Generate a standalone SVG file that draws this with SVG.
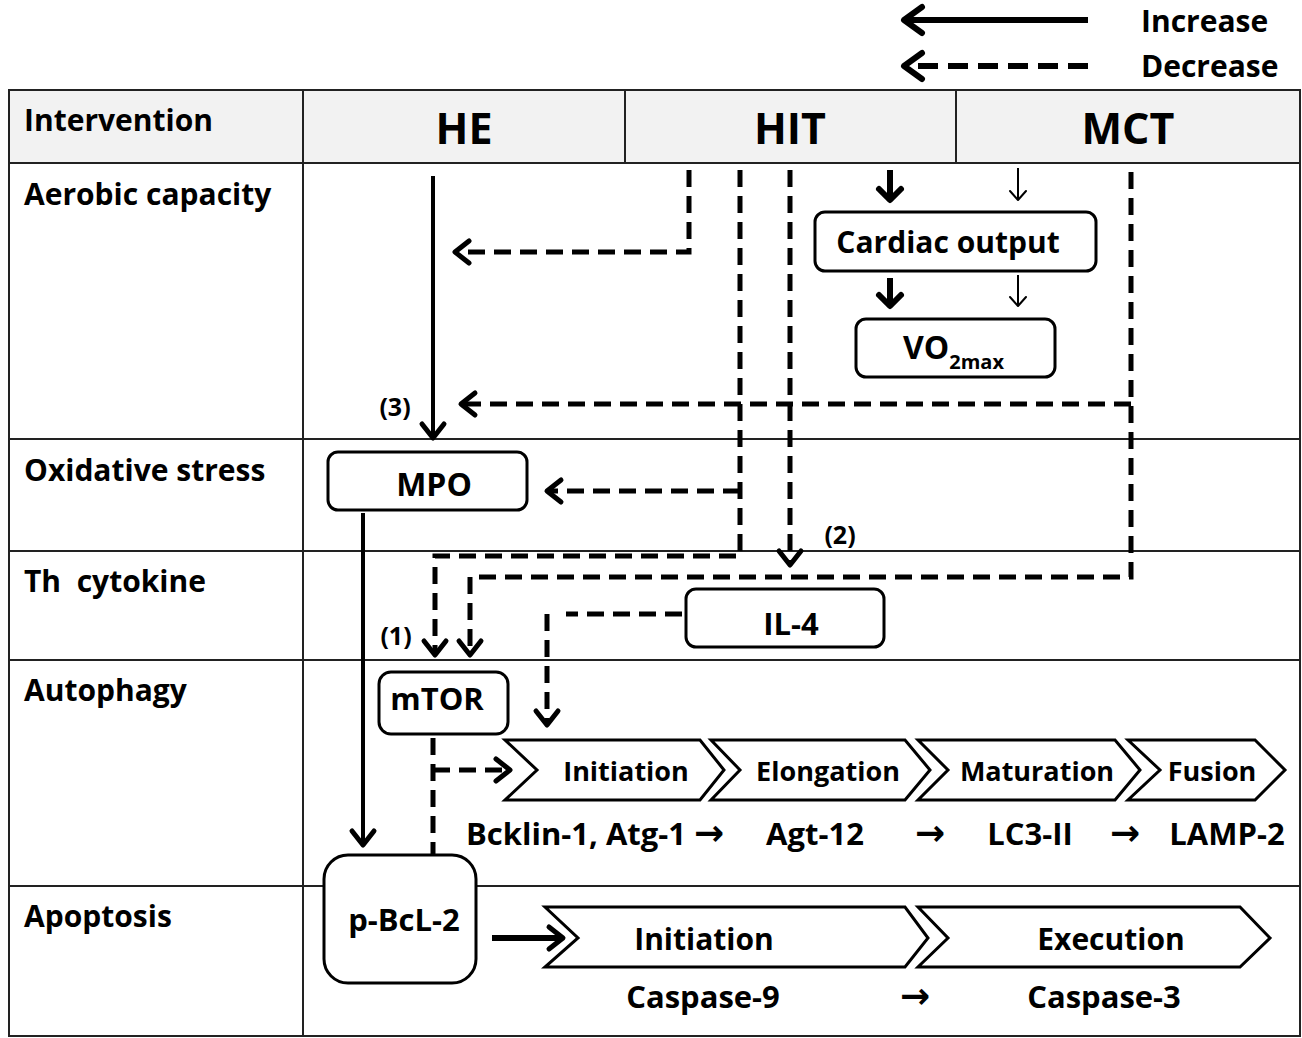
<svg xmlns="http://www.w3.org/2000/svg" width="1302" height="1038" viewBox="0 0 1302 1038">
<style>
text{font-family:"Open Sans","Liberation Sans",sans-serif;font-weight:bold;fill:#000}
.lbl{font-size:30px}
.hd{font-size:43px;text-anchor:middle}
.nd{font-size:31px;text-anchor:middle}
.st{font-size:27px;text-anchor:middle}
.sb{font-size:31px;text-anchor:middle}
.ar{font-family:"DejaVu Sans",sans-serif;font-weight:bold;font-size:36px}
.box{fill:#fff;stroke:#000;stroke-width:3}
.chev{fill:#fff;stroke:#000;stroke-width:3;stroke-linejoin:miter}
.grid{stroke:#222;stroke-width:2;fill:none}
.sol{stroke:#000;stroke-width:4;fill:none}
.dash{stroke:#000;stroke-width:5;fill:none;stroke-dasharray:17 9}
</style>
<defs>
<marker id="ah" markerUnits="userSpaceOnUse" orient="auto" refX="0" refY="0" markerWidth="40" markerHeight="40" viewBox="-30 -20 40 40" overflow="visible">
<path d="M-14,-11 L0,0 L-14,11" fill="none" stroke="#000" stroke-width="5" stroke-linecap="round" stroke-linejoin="round"/>
</marker>
<marker id="ahL" markerUnits="userSpaceOnUse" orient="auto" refX="0" refY="0" markerWidth="40" markerHeight="40" viewBox="-30 -20 40 40" overflow="visible">
<path d="M-18,-13 L0,0 L-18,13" fill="none" stroke="#000" stroke-width="6" stroke-linecap="round" stroke-linejoin="round"/>
</marker>
<marker id="ahB" markerUnits="userSpaceOnUse" orient="auto" refX="0" refY="0" markerWidth="40" markerHeight="40" viewBox="-30 -20 40 40" overflow="visible">
<path d="M-11,-11 L0,0 L-11,11" fill="none" stroke="#000" stroke-width="6" stroke-linecap="round" stroke-linejoin="round"/>
</marker>
<marker id="ahT" markerUnits="userSpaceOnUse" orient="auto" refX="0" refY="0" markerWidth="40" markerHeight="40" viewBox="-30 -20 40 40" overflow="visible">
<path d="M-9,-8 L0,0 L-9,8" fill="none" stroke="#000" stroke-width="2" stroke-linecap="round" stroke-linejoin="round"/>
</marker>
</defs>
<rect width="1302" height="1038" fill="#fff"/>

<g id="legend">
<line x1="1088" y1="20" x2="904" y2="20" stroke="#000" stroke-width="6" marker-end="url(#ahL)"/>
<line x1="1088" y1="66" x2="904" y2="66" stroke="#000" stroke-width="6" stroke-dasharray="20 10" marker-end="url(#ahL)"/>
<text x="1141" y="32" style="font-size:30px">Increase</text>
<text x="1141" y="77" style="font-size:30px">Decrease</text>
</g>

<g id="table">
<rect x="9" y="90" width="1291" height="73" fill="#f2f2f2"/>
<rect x="9" y="90" width="1291" height="946" class="grid"/>
<line x1="303" y1="90" x2="303" y2="1036" class="grid"/>
<line x1="625" y1="90" x2="625" y2="163" class="grid"/>
<line x1="956" y1="90" x2="956" y2="163" class="grid"/>
<line x1="9" y1="163" x2="1300" y2="163" class="grid"/>
<line x1="9" y1="439" x2="1300" y2="439" class="grid"/>
<line x1="9" y1="551" x2="1300" y2="551" class="grid"/>
<line x1="9" y1="660" x2="1300" y2="660" class="grid"/>
<line x1="9" y1="886" x2="1300" y2="886" class="grid"/>
<text x="24" y="131" class="lbl">Intervention</text>
<text x="464" y="144" class="hd">HE</text>
<text x="790" y="144" class="hd">HIT</text>
<text x="1128" y="144" class="hd">MCT</text>
<text x="24" y="205" class="lbl">Aerobic capacity</text>
<text x="24" y="481" class="lbl">Oxidative stress</text>
<text x="24" y="592" class="lbl" xml:space="preserve">Th  cytokine</text>
<text x="24" y="701" class="lbl">Autophagy</text>
<text x="24" y="927" class="lbl">Apoptosis</text>
</g>

<g id="connectors">
<path d="M433,176 V438" class="sol" marker-end="url(#ah)"/>
<path d="M689,170 V252 H455" class="dash" marker-end="url(#ah)"/>
<path d="M740,170 V556 H435 V655" class="dash" marker-end="url(#ah)"/>
<path d="M740,491 H547" class="dash" marker-end="url(#ah)"/>
<path d="M790,170 V565" class="dash" marker-end="url(#ah)"/>
<path d="M1131,172 V577 H470 V655" class="dash" marker-end="url(#ah)"/>
<path d="M1131,404 H461" class="dash" marker-end="url(#ah)"/>
<path d="M682,614 H566 M547,614 V725" class="dash" marker-end="url(#ah)"/>
<path d="M363,513 V845" class="sol" marker-end="url(#ah)"/>
<path d="M433,738 V855" class="dash"/>
<path d="M433,770 H510" class="dash" marker-end="url(#ah)"/>
<path d="M492,938 H563" stroke="#000" stroke-width="6" fill="none" marker-end="url(#ah)"/>
<path d="M890,170 V200" stroke="#000" stroke-width="6" fill="none" marker-end="url(#ahB)"/>
<path d="M890,278 V306" stroke="#000" stroke-width="6" fill="none" marker-end="url(#ahB)"/>
<path d="M1018,168 V200" stroke="#000" stroke-width="2" fill="none" marker-end="url(#ahT)"/>
<path d="M1018,275 V306" stroke="#000" stroke-width="2" fill="none" marker-end="url(#ahT)"/>
<text x="395" y="416" style="font-size:25px" text-anchor="middle">(3)</text>
<text x="840" y="544" style="font-size:25px" text-anchor="middle">(2)</text>
<text x="396" y="645" style="font-size:25px" text-anchor="middle">(1)</text>
</g>

<g id="cardiac">
<rect x="815" y="212" width="281" height="59" rx="10" class="box"/>
<text x="948" y="253" style="font-size:30px;text-anchor:middle">Cardiac output</text>
</g>
<g id="vo2max">
<rect x="856" y="319" width="199" height="58" rx="10" class="box"/>
<text x="903" y="359" style="font-size:32px">VO<tspan style="font-size:20px" dy="10">2max</tspan></text>
</g>
<g id="mpo">
<rect x="328" y="452" width="199" height="58" rx="10" class="box"/>
<text x="434" y="496" style="font-size:32px;text-anchor:middle">MPO</text>
</g>
<g id="il4">
<rect x="686" y="589" width="198" height="58" rx="10" class="box"/>
<text x="791" y="635" class="nd">IL-4</text>
</g>
<g id="mtor">
<rect x="379" y="672" width="129" height="62" rx="12" class="box"/>
<text x="437" y="710" class="nd">mTOR</text>
</g>
<g id="pbcl2">
<rect x="324" y="855" width="152" height="128" rx="24" class="box"/>
<text x="404" y="931" class="nd">p-BcL-2</text>
</g>

<g id="autophagy">
<polygon points="505,740 700,740 724,770 700,800 505,800 537,770" class="chev"/>
<polygon points="711,740 905,740 930,770 905,800 711,800 740,770" class="chev"/>
<polygon points="918,740 1115,740 1140,770 1115,800 918,800 948,770" class="chev"/>
<polygon points="1128,740 1255,740 1285,770 1255,800 1128,800 1160,770" class="chev"/>
<text x="626" y="781" class="st">Initiation</text>
<text x="828" y="781" class="st">Elongation</text>
<text x="1037" y="781" class="st">Maturation</text>
<text x="1212" y="781" class="st">Fusion</text>
<text x="466" y="845" style="font-size:31px">Bcklin-1, Atg-1 <tspan class="ar">→</tspan></text>
<text x="815" y="845" class="sb">Agt-12</text>
<text x="930" y="845" class="sb ar">→</text>
<text x="1030" y="845" class="sb">LC3-II</text>
<text x="1125" y="845" class="sb ar">→</text>
<text x="1227" y="845" class="sb">LAMP-2</text>
</g>

<g id="apoptosis">
<polygon points="545,907 905,907 928,938 905,967 545,967 578,938" class="chev"/>
<polygon points="918,907 1240,907 1270,938 1240,967 918,967 948,938" class="chev"/>
<text x="704" y="950" style="font-size:30px;text-anchor:middle">Initiation</text>
<text x="1111" y="950" style="font-size:30px;text-anchor:middle">Execution</text>
<text x="703" y="1008" class="sb">Caspase-9</text>
<text x="915" y="1008" class="sb ar">→</text>
<text x="1104" y="1008" class="sb">Caspase-3</text>
</g>
</svg>
